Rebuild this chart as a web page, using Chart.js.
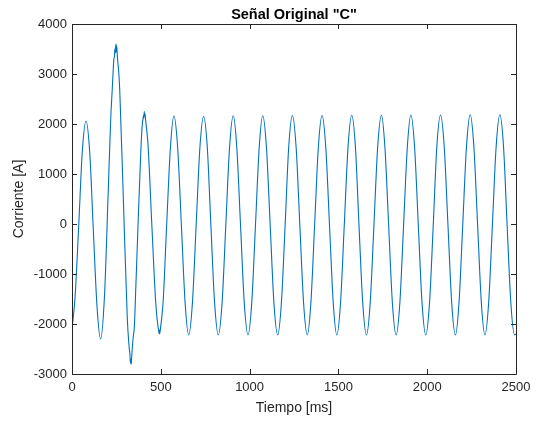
<!DOCTYPE html>
<html>
<head>
<meta charset="utf-8">
<script src="https://cdn.jsdelivr.net/npm/chart.js@4/dist/chart.umd.min.js"></script>
<style>
  html, body { margin: 0; padding: 0; background: #fff; }
  #wrap { width: 541px; height: 421px; }
</style>
</head>
<body>
<div id="wrap"><canvas id="chart_senal"></canvas></div>
<script>
// muestras (tiempo en ms, corriente en A)
let tiempo = [
    0, 17, 38, 58, 79,
    100, 120, 141, 161,
    183, 204, 218, 227, 233, 236, 239, 241, 244, 246, 248, 250, 252, 255, 259, 263, 269,
    290, 311, 321, 326, 329, 331, 333, 335, 338,
    345, 351, 360, 370, 388, 396, 400, 403, 405, 407, 409, 411, 414,
    428, 449, 471, 484, 487, 489, 491, 493, 496,
    513, 533, 554,
    574, 595, 616, 637, 657, 678, 699, 720,
    741, 762, 782, 803, 824, 845, 866, 887,
    908, 928, 949, 970, 991, 1012, 1033, 1054,
    1074, 1095, 1116, 1137, 1158, 1179, 1200, 1220,
    1241, 1262, 1283, 1304, 1325, 1345, 1366, 1387,
    1408, 1429, 1450, 1471, 1491, 1512, 1533, 1554,
    1575, 1596, 1616, 1637, 1658, 1679, 1700, 1721,
    1742, 1762, 1783, 1804, 1825, 1846, 1867, 1888,
    1908, 1929, 1950, 1971, 1992, 2013, 2034, 2054,
    2075, 2096, 2117, 2138, 2159, 2179, 2200, 2221,
    2242, 2263, 2284, 2305, 2325, 2346, 2367, 2388,
    2409, 2430, 2450, 2471, 2492, 2500
];
let corriente = [
    -2100, -1480, -20, 1450, 2060,
    1420, -120, -1660, -2300,
    -1435, 650, 2100, 2720, 3150, 3300, 3350, 3500, 3420, 3560, 3600, 3440, 3560, 3380, 3200, 3050, 2660,
    400, -1860, -2440, -2600, -2780, -2700, -2810, -2720, -2560,
    -2250, -2060, -1200, -200, 1500, 2000, 2100, 2180, 2120, 2247, 2170, 2210, 2100,
    1590, 20, -1550, -2050, -2100, -2180, -2120, -2200, -2150,
    -1560, -20, 1520,
    2160, 1520, -30, -1580, -2220, -1580, -30, 1520,
    2150, 1520, -30, -1580, -2220, -1580, -30, 1525,
    2165, 1525, -30, -1580, -2220, -1580, -30, 1525,
    2165, 1525, -30, -1580, -2220, -1580, -30, 1525,
    2170, 1530, -30, -1580, -2220, -1580, -30, 1530,
    2170, 1530, -30, -1580, -2220, -1580, -30, 1530,
    2175, 1530, -30, -1580, -2220, -1580, -30, 1530,
    2175, 1530, -30, -1580, -2220, -1580, -30, 1530,
    2180, 1535, -30, -1580, -2220, -1580, -30, 1535,
    2180, 1535, -30, -1580, -2220, -1580, -30, 1535,
    2185, 1535, -30, -1580, -2220, -1580, -30, 1535,
    2185, 1535, -30, -1580, -2220, -2200
];
let ticksX = [0, 500, 1000, 1500, 2000, 2500];
let ticksY = [-3000, -2000, -1000, 0, 1000, 2000, 3000, 4000];

let colorTexto = '#262626';
let fuente = '"Liberation Sans", Arial, Helvetica, sans-serif';

let puntos = tiempo.map((t, i) => ({x: t, y: corriente[i]}));

// caja de ejes estilo matlab con ticks hacia dentro + titulo centrado en el area
let cajaMatlab = {
    id: 'cajaMatlab',
    afterDraw(chart) {
        let c = chart.ctx, a = chart.chartArea;
        let sx = chart.scales.x, sy = chart.scales.y;
        c.save();
        c.strokeStyle = colorTexto;
        c.lineWidth = 1;
        c.beginPath();
        c.rect(Math.round(a.left) + 0.5, Math.round(a.top) + 0.5,
            Math.round(a.right - a.left), Math.round(a.bottom - a.top));
        ticksX.forEach(v => {
            let px = Math.round(sx.getPixelForValue(v)) + 0.5;
            c.moveTo(px, a.bottom); c.lineTo(px, a.bottom - 5);
            c.moveTo(px, a.top); c.lineTo(px, a.top + 5);
        });
        ticksY.forEach(v => {
            let py = Math.round(sy.getPixelForValue(v)) + 0.5;
            c.moveTo(a.left, py); c.lineTo(a.left + 5, py);
            c.moveTo(a.right, py); c.lineTo(a.right - 5, py);
        });
        c.stroke();
        c.fillStyle = '#000';
        c.font = 'bold 14.5px ' + fuente;
        c.textAlign = 'center';
        c.textBaseline = 'alphabetic';
        c.fillText('Señal Original "C"', (a.left + a.right) / 2, 18.5);
        c.restore();
    }
};

let opciones = {
    responsive: true,
    maintainAspectRatio: false,
    animation: false,
    layout: {padding: {top: 24, right: 25, bottom: 0, left: 0}},
    scales: {
        x: {
            type: 'linear',
            min: 0,
            max: 2500,
            afterFit: s => { s.height = 47; },
            afterBuildTicks: s => { s.ticks = ticksX.map(v => ({value: v})); },
            grid: {display: false, drawTicks: false},
            border: {display: false},
            ticks: {color: colorTexto, font: {family: fuente, size: 13}, padding: 6, maxRotation: 0,
                callback: v => String(v)},
            title: {display: true, text: 'Tiempo [ms]', color: colorTexto,
                font: {family: fuente, size: 14}, padding: {top: 0, bottom: 4}}
        },
        y: {
            min: -3000,
            max: 4000,
            afterFit: s => { s.width = 72; },
            afterBuildTicks: s => { s.ticks = ticksY.map(v => ({value: v})); },
            grid: {display: false, drawTicks: false},
            border: {display: false},
            ticks: {color: colorTexto, font: {family: fuente, size: 13}, padding: 5,
                callback: v => String(v)},
            title: {display: true, text: 'Corriente [A]', color: colorTexto,
                font: {family: fuente, size: 14}, padding: {top: 11, bottom: 0}}
        }
    },
    plugins: {
        legend: false,
        title: {display: false},
        tooltip: {enabled: false}
    }
};

let senal = new Chart(
    document.getElementById('chart_senal'), {
        type: 'line',
        data: {
            datasets: [{
                label: 'C',
                data: puntos,
                borderColor: '#0072BD',
                borderWidth: 1.1,
                pointRadius: 0,
                fill: false,
                cubicInterpolationMode: 'monotone'
            }]
        },
        options: opciones,
        plugins: [cajaMatlab]
    });
</script>
</body>
</html>
